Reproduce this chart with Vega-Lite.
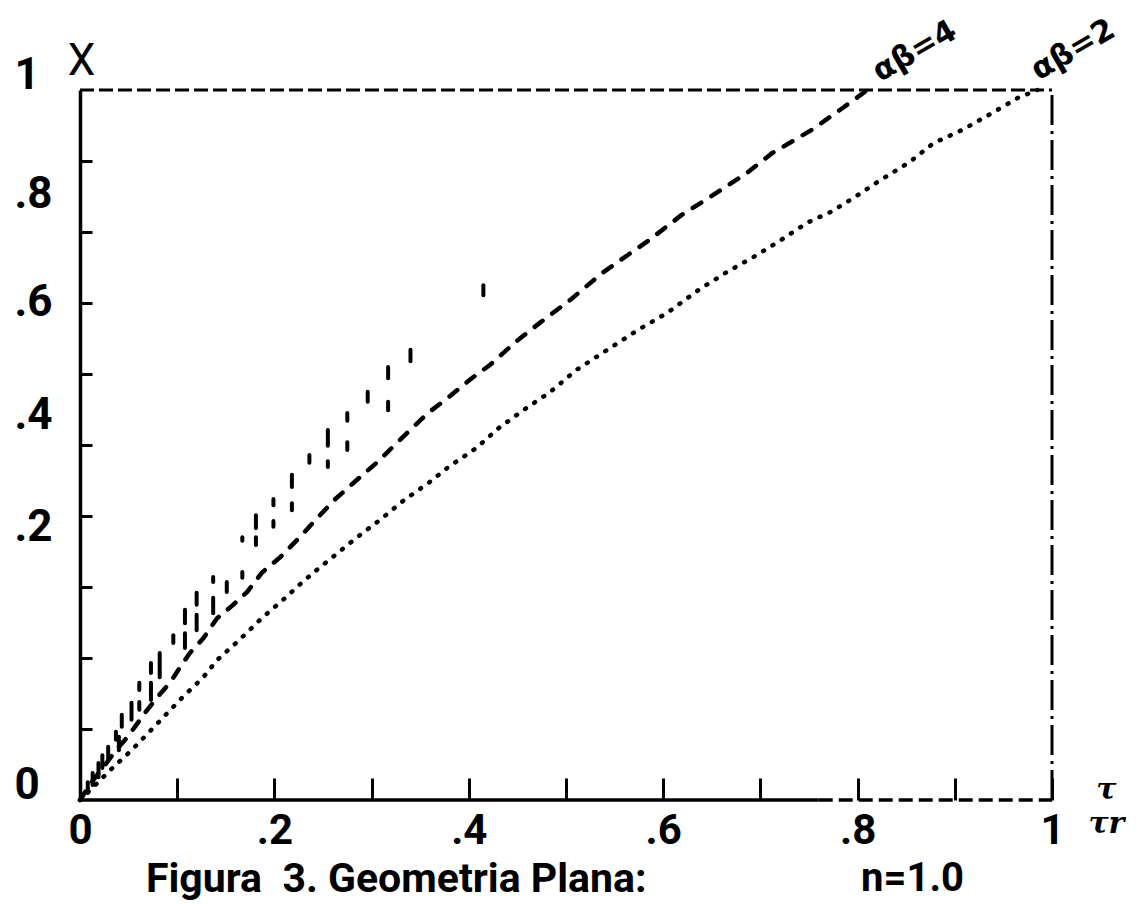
{
  "$schema": "https://vega.github.io/schema/vega-lite/v6.json",
  "width": 972,
  "height": 710,
  "autosize": "none",
  "padding": {"left": 80, "top": 90, "right": 92, "bottom": 104},
  "background": "white",
  "config": {
    "view": {"stroke": null},
    "axis": {"grid": false, "domainColor": "black", "tickColor": "black", "labelColor": "black", "titleColor": "black"}
  },
  "title": {
    "text": "Figura\u00a0\u00a03. Geometria Plana:",
    "orient": "bottom",
    "anchor": "start",
    "frame": "group",
    "dx": 66,
    "offset": -38,
    "font": "Roboto",
    "fontSize": 41,
    "fontWeight": "bold",
    "color": "black"
  },
  "datasets": {
    "curves": [
      {"curve": "αβ=4", "tau": 0, "X": 0},
      {"curve": "αβ=4", "tau": 0.012, "X": 0.025},
      {"curve": "αβ=4", "tau": 0.025, "X": 0.048},
      {"curve": "αβ=4", "tau": 0.037, "X": 0.07},
      {"curve": "αβ=4", "tau": 0.049, "X": 0.089},
      {"curve": "αβ=4", "tau": 0.067, "X": 0.123},
      {"curve": "αβ=4", "tau": 0.079, "X": 0.144},
      {"curve": "αβ=4", "tau": 0.093, "X": 0.166},
      {"curve": "αβ=4", "tau": 0.103, "X": 0.187},
      {"curve": "αβ=4", "tau": 0.113, "X": 0.207},
      {"curve": "αβ=4", "tau": 0.127, "X": 0.228},
      {"curve": "αβ=4", "tau": 0.141, "X": 0.256},
      {"curve": "αβ=4", "tau": 0.156, "X": 0.273},
      {"curve": "αβ=4", "tau": 0.172, "X": 0.293},
      {"curve": "αβ=4", "tau": 0.187, "X": 0.32},
      {"curve": "αβ=4", "tau": 0.206, "X": 0.342},
      {"curve": "αβ=4", "tau": 0.226, "X": 0.37},
      {"curve": "αβ=4", "tau": 0.244, "X": 0.397},
      {"curve": "αβ=4", "tau": 0.262, "X": 0.423},
      {"curve": "αβ=4", "tau": 0.285, "X": 0.451},
      {"curve": "αβ=4", "tau": 0.306, "X": 0.476},
      {"curve": "αβ=4", "tau": 0.326, "X": 0.503},
      {"curve": "αβ=4", "tau": 0.345, "X": 0.528},
      {"curve": "αβ=4", "tau": 0.358, "X": 0.545},
      {"curve": "αβ=4", "tau": 0.378, "X": 0.566},
      {"curve": "αβ=4", "tau": 0.403, "X": 0.594},
      {"curve": "αβ=4", "tau": 0.422, "X": 0.613},
      {"curve": "αβ=4", "tau": 0.448, "X": 0.645},
      {"curve": "αβ=4", "tau": 0.473, "X": 0.672},
      {"curve": "αβ=4", "tau": 0.504, "X": 0.704},
      {"curve": "αβ=4", "tau": 0.537, "X": 0.742},
      {"curve": "αβ=4", "tau": 0.564, "X": 0.768},
      {"curve": "αβ=4", "tau": 0.586, "X": 0.789},
      {"curve": "αβ=4", "tau": 0.619, "X": 0.824},
      {"curve": "αβ=4", "tau": 0.648, "X": 0.849},
      {"curve": "αβ=4", "tau": 0.686, "X": 0.883},
      {"curve": "αβ=4", "tau": 0.712, "X": 0.911},
      {"curve": "αβ=4", "tau": 0.753, "X": 0.944},
      {"curve": "αβ=4", "tau": 0.785, "X": 0.975},
      {"curve": "αβ=4", "tau": 0.81, "X": 1.0},
      {"curve": "αβ=2", "tau": 0, "X": 0},
      {"curve": "αβ=2", "tau": 0.015, "X": 0.02},
      {"curve": "αβ=2", "tau": 0.031, "X": 0.042},
      {"curve": "αβ=2", "tau": 0.053, "X": 0.07},
      {"curve": "αβ=2", "tau": 0.07, "X": 0.094},
      {"curve": "αβ=2", "tau": 0.091, "X": 0.124},
      {"curve": "αβ=2", "tau": 0.105, "X": 0.144},
      {"curve": "αβ=2", "tau": 0.127, "X": 0.173},
      {"curve": "αβ=2", "tau": 0.141, "X": 0.197},
      {"curve": "αβ=2", "tau": 0.162, "X": 0.223},
      {"curve": "αβ=2", "tau": 0.187, "X": 0.256},
      {"curve": "αβ=2", "tau": 0.209, "X": 0.282},
      {"curve": "αβ=2", "tau": 0.228, "X": 0.306},
      {"curve": "αβ=2", "tau": 0.24, "X": 0.32},
      {"curve": "αβ=2", "tau": 0.285, "X": 0.37},
      {"curve": "αβ=2", "tau": 0.311, "X": 0.397},
      {"curve": "αβ=2", "tau": 0.334, "X": 0.423},
      {"curve": "αβ=2", "tau": 0.358, "X": 0.446},
      {"curve": "αβ=2", "tau": 0.379, "X": 0.469},
      {"curve": "αβ=2", "tau": 0.408, "X": 0.496},
      {"curve": "αβ=2", "tau": 0.43, "X": 0.523},
      {"curve": "αβ=2", "tau": 0.456, "X": 0.549},
      {"curve": "αβ=2", "tau": 0.484, "X": 0.575},
      {"curve": "αβ=2", "tau": 0.511, "X": 0.606},
      {"curve": "αβ=2", "tau": 0.538, "X": 0.63},
      {"curve": "αβ=2", "tau": 0.574, "X": 0.662},
      {"curve": "αβ=2", "tau": 0.604, "X": 0.686},
      {"curve": "αβ=2", "tau": 0.636, "X": 0.718},
      {"curve": "αβ=2", "tau": 0.666, "X": 0.744},
      {"curve": "αβ=2", "tau": 0.697, "X": 0.768},
      {"curve": "αβ=2", "tau": 0.725, "X": 0.792},
      {"curve": "αβ=2", "tau": 0.748, "X": 0.813},
      {"curve": "αβ=2", "tau": 0.772, "X": 0.828},
      {"curve": "αβ=2", "tau": 0.797, "X": 0.849},
      {"curve": "αβ=2", "tau": 0.82, "X": 0.87},
      {"curve": "αβ=2", "tau": 0.854, "X": 0.899},
      {"curve": "αβ=2", "tau": 0.878, "X": 0.925},
      {"curve": "αβ=2", "tau": 0.908, "X": 0.944},
      {"curve": "αβ=2", "tau": 0.939, "X": 0.968},
      {"curve": "αβ=2", "tau": 0.965, "X": 0.989},
      {"curve": "αβ=2", "tau": 0.985, "X": 1.0}
    ],
    "strokes": [
      {"tau": 0.008, "lo": 0.01, "hi": 0.025},
      {"tau": 0.013, "lo": 0.021, "hi": 0.038},
      {"tau": 0.019, "lo": 0.032, "hi": 0.052},
      {"tau": 0.023, "lo": 0.045, "hi": 0.063},
      {"tau": 0.029, "lo": 0.056, "hi": 0.075},
      {"tau": 0.037, "lo": 0.085, "hi": 0.096},
      {"tau": 0.04, "lo": 0.07, "hi": 0.089},
      {"tau": 0.043, "lo": 0.103, "hi": 0.12},
      {"tau": 0.053, "lo": 0.113, "hi": 0.137},
      {"tau": 0.061, "lo": 0.127, "hi": 0.138},
      {"tau": 0.061, "lo": 0.155, "hi": 0.165},
      {"tau": 0.073, "lo": 0.141, "hi": 0.165},
      {"tau": 0.073, "lo": 0.179, "hi": 0.193},
      {"tau": 0.082, "lo": 0.173, "hi": 0.207},
      {"tau": 0.096, "lo": 0.221, "hi": 0.232},
      {"tau": 0.108, "lo": 0.214, "hi": 0.235},
      {"tau": 0.108, "lo": 0.249, "hi": 0.268},
      {"tau": 0.12, "lo": 0.239, "hi": 0.261},
      {"tau": 0.12, "lo": 0.275, "hi": 0.292},
      {"tau": 0.137, "lo": 0.263, "hi": 0.285},
      {"tau": 0.137, "lo": 0.307, "hi": 0.314},
      {"tau": 0.151, "lo": 0.293, "hi": 0.307},
      {"tau": 0.167, "lo": 0.313, "hi": 0.321},
      {"tau": 0.167, "lo": 0.365, "hi": 0.37},
      {"tau": 0.181, "lo": 0.359, "hi": 0.37},
      {"tau": 0.181, "lo": 0.383, "hi": 0.401},
      {"tau": 0.199, "lo": 0.385, "hi": 0.393},
      {"tau": 0.199, "lo": 0.415, "hi": 0.424},
      {"tau": 0.218, "lo": 0.408, "hi": 0.418},
      {"tau": 0.218, "lo": 0.441, "hi": 0.458},
      {"tau": 0.236, "lo": 0.475, "hi": 0.486},
      {"tau": 0.255, "lo": 0.469, "hi": 0.477},
      {"tau": 0.255, "lo": 0.499, "hi": 0.521},
      {"tau": 0.275, "lo": 0.493, "hi": 0.504},
      {"tau": 0.275, "lo": 0.534, "hi": 0.545},
      {"tau": 0.296, "lo": 0.561, "hi": 0.575},
      {"tau": 0.317, "lo": 0.549, "hi": 0.561},
      {"tau": 0.317, "lo": 0.594, "hi": 0.61},
      {"tau": 0.34, "lo": 0.618, "hi": 0.634},
      {"tau": 0.415, "lo": 0.711, "hi": 0.725}
    ]
  },
  "layer": [
    {
      "data": {"name": "curves"},
      "transform": [{"filter": "datum.curve === 'αβ=4'"}],
      "mark": {"type": "line", "color": "black", "strokeWidth": 4.5, "strokeDash": [10, 12], "strokeCap": "round"},
      "encoding": {
        "x": {
          "field": "tau", "type": "quantitative",
          "scale": {"domain": [0, 1], "nice": false, "zero": false},
          "axis": {
            "orient": "bottom",
            "values": [0, 0.1, 0.2, 0.3, 0.4, 0.5, 0.6, 0.7, 0.8, 0.9, 1],
            "domain": false,
            "ticks": true,
            "tickSize": -22,
            "tickWidth": 3,
            "labelExpr": "datum.value === 0 ? '0' : datum.value === 1 ? '1' : datum.value === 0.2 ? '.2' : datum.value === 0.4 ? '.4' : datum.value === 0.6 ? '.6' : datum.value === 0.8 ? '.8' : ''",
            "labelFont": "Roboto",
            "labelFontSize": 42,
            "labelFontWeight": "bold",
            "labelPadding": 32,
            "labelFlush": false,
            "labelOverlap": false,
            "labelBound": false,
            "title": "n=1.0",
            "titleFont": "Roboto",
            "titleFontSize": 40,
            "titleFontWeight": "bold",
            "titleAngle": 0,
            "titleAlign": "center",
            "titleBaseline": "alphabetic",
            "titleX": 832,
            "titleY": 90
          }
        },
        "y": {
          "field": "X", "type": "quantitative",
          "scale": {"domain": [0, 1], "nice": false, "zero": false},
          "axis": {
            "orient": "left",
            "values": [0, 0.1, 0.2, 0.3, 0.363, 0.4, 0.5, 0.521, 0.6, 0.679, 0.7, 0.8, 0.831, 0.9, 1],
            "domain": true,
            "domainWidth": 3.5,
            "ticks": true,
            "tickSize": -12,
            "tickWidth": 3,
            "tickOpacity": {
              "condition": {"test": "datum.value === 0 || datum.value === 1 || datum.value === 0.363 || datum.value === 0.521 || datum.value === 0.679 || datum.value === 0.831", "value": 0},
              "value": 1
            },
            "labelExpr": "datum.value === 1 ? '1' : datum.value === 0.831 ? '.8' : datum.value === 0.679 ? '.6' : datum.value === 0.521 ? '.4' : datum.value === 0.363 ? '.2' : datum.value === 0 ? '0' : ''",
            "labelAlign": "left",
            "labelBaseline": "middle",
            "labelOffset": -15,
            "labelPadding": 78,
            "labelFont": "Roboto",
            "labelFontSize": 44,
            "labelFontWeight": "bold",
            "labelFlush": false,
            "labelOverlap": false,
            "labelBound": false,
            "title": "X",
            "titleFont": "Roboto",
            "titleFontSize": 44,
            "titleFontWeight": "normal",
            "titleAngle": 0,
            "titleAlign": "center",
            "titleBaseline": "middle",
            "titleX": 1,
            "titleY": -29
          }
        }
      }
    },
    {
      "data": {"name": "curves"},
      "transform": [{"filter": "datum.curve === 'αβ=2'"}],
      "mark": {"type": "line", "color": "black", "strokeWidth": 4.5, "strokeDash": [1, 10], "strokeCap": "round"},
      "encoding": {
        "x": {"field": "tau", "type": "quantitative"},
        "y": {"field": "X", "type": "quantitative"}
      }
    },
    {
      "data": {"name": "strokes"},
      "mark": {"type": "rule", "color": "black", "strokeWidth": 4, "strokeCap": "round"},
      "encoding": {
        "x": {"field": "tau", "type": "quantitative"},
        "y": {"field": "lo", "type": "quantitative"},
        "y2": {"field": "hi"}
      }
    },
    {
      "data": {"values": [{}]},
      "mark": {"type": "rule", "color": "black", "strokeWidth": 3, "strokeDash": [14, 5]},
      "encoding": {
        "x": {"datum": 0, "type": "quantitative"},
        "x2": {"datum": 1},
        "y": {"datum": 1, "type": "quantitative"}
      }
    },
    {
      "data": {"values": [{}]},
      "mark": {"type": "rule", "color": "black", "strokeWidth": 3, "strokeDash": [30, 6, 3, 6]},
      "encoding": {
        "x": {"datum": 1, "type": "quantitative"},
        "y": {"datum": 0, "type": "quantitative"},
        "y2": {"datum": 1}
      }
    },
    {
      "data": {"values": [{}]},
      "mark": {"type": "rule", "color": "black", "strokeWidth": 3.5},
      "encoding": {
        "x": {"datum": 0, "type": "quantitative"},
        "x2": {"datum": 0.76},
        "y": {"datum": 0, "type": "quantitative"}
      }
    },
    {
      "data": {"values": [{}]},
      "mark": {"type": "rule", "color": "black", "strokeWidth": 3.5, "strokeDash": [14, 6]},
      "encoding": {
        "x": {"datum": 0.76, "type": "quantitative"},
        "x2": {"datum": 1},
        "y": {"datum": 0, "type": "quantitative"}
      }
    },
    {
      "data": {"values": [{}]},
      "mark": {"type": "text", "text": "αβ=4", "angle": -30, "font": "DejaVu Sans", "fontSize": 31, "fontWeight": "bold", "color": "black"},
      "encoding": {
        "x": {"datum": 0.859, "type": "quantitative"},
        "y": {"datum": 1.054, "type": "quantitative"}
      }
    },
    {
      "data": {"values": [{}]},
      "mark": {"type": "text", "text": "αβ=2", "angle": -30, "font": "DejaVu Sans", "fontSize": 31, "fontWeight": "bold", "color": "black"},
      "encoding": {
        "x": {"datum": 1.022, "type": "quantitative"},
        "y": {"datum": 1.056, "type": "quantitative"}
      }
    },
    {
      "data": {"values": [{}]},
      "mark": {"type": "text", "text": ["τ", "τr"], "lineHeight": 34, "font": "DejaVu Serif", "fontStyle": "italic", "fontSize": 30, "fontWeight": "bold", "color": "black"},
      "encoding": {
        "x": {"datum": 1.056, "type": "quantitative"},
        "y": {"datum": 0.014, "type": "quantitative"}
      }
    }
  ]
}
